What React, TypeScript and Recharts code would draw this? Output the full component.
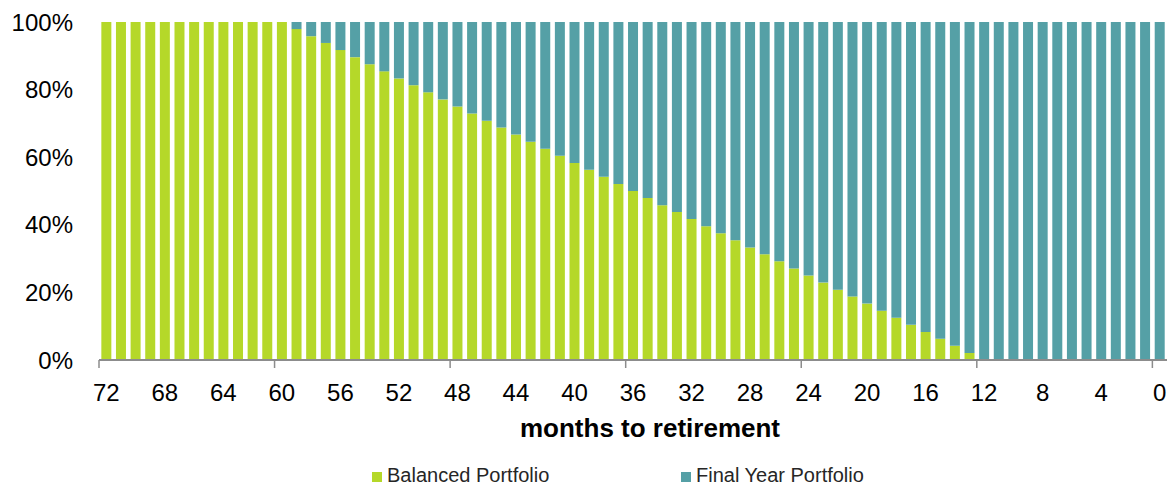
import React from 'react';
import { BarChart, Bar, XAxis, YAxis } from 'recharts';

const months = [
  72, 71, 70, 69, 68, 67, 66, 65, 64, 63, 62, 61, 60, 59, 58, 57, 56, 55, 54, 53, 52, 51, 50, 49, 48,
  47, 46, 45, 44, 43, 42, 41, 40, 39, 38, 37, 36, 35, 34, 33, 32, 31, 30, 29, 28, 27, 26, 25, 24,
  23, 22, 21, 20, 19, 18, 17, 16, 15, 14, 13, 12, 11, 10, 9, 8, 7, 6, 5, 4, 3, 2, 1, 0,
];

const balanced = [
  100, 100, 100, 100, 100, 100, 100, 100, 100, 100, 100, 100, 100,
  97.9, 95.8, 93.8, 91.7, 89.6, 87.5, 85.4, 83.3, 81.3, 79.2, 77.1, 75.0,
  72.9, 70.8, 68.8, 66.7, 64.6, 62.5, 60.4, 58.3, 56.3, 54.2, 52.1, 50.0,
  47.9, 45.8, 43.8, 41.7, 39.6, 37.5, 35.4, 33.3, 31.3, 29.2, 27.1, 25.0,
  22.9, 20.8, 18.8, 16.7, 14.6, 12.5, 10.4, 8.3, 6.3, 4.2, 2.1,
  0, 0, 0, 0, 0, 0, 0, 0, 0, 0, 0, 0, 0,
];

const finalYear = [
  0, 0, 0, 0, 0, 0, 0, 0, 0, 0, 0, 0, 0,
  2.1, 4.2, 6.2, 8.3, 10.4, 12.5, 14.6, 16.7, 18.7, 20.8, 22.9, 25.0,
  27.1, 29.2, 31.2, 33.3, 35.4, 37.5, 39.6, 41.7, 43.7, 45.8, 47.9, 50.0,
  52.1, 54.2, 56.2, 58.3, 60.4, 62.5, 64.6, 66.7, 68.7, 70.8, 72.9, 75.0,
  77.1, 79.2, 81.2, 83.3, 85.4, 87.5, 89.6, 91.7, 93.7, 95.8, 97.9,
  100, 100, 100, 100, 100, 100, 100, 100, 100, 100, 100, 100, 100,
];

const yTicks = [0, 20, 40, 60, 80, 100];

const GREEN = '#b5d829';
const TEAL = '#55a0a6';
const FONT = '"Liberation Sans", Arial, sans-serif';

const data = months.map((m, i) => ({
  month: m,
  balanced: balanced[i],
  finalYear: finalYear[i],
}));

// label every 4th month, small tick mark on the band edge every 12 months
const MonthTick = (props: any) => {
  const { x, y, payload } = props;
  const half = payload && payload.offset ? payload.offset : 7.32;
  return (
    <g>
      {payload.value % 12 === 0 && (
        <line x1={x - half} x2={x - half} y1={y} y2={y + 8} stroke="#8c8c8c" strokeWidth={1.5} />
      )}
      <text x={x} y={y + 41} textAnchor="middle" fontSize={24} fontFamily={FONT} fill="#000">
        {payload.value}
      </text>
    </g>
  );
};

const AxisTitle = (props: any) => {
  const vb = props.viewBox || { x: 99, width: 1068 };
  return (
    <text
      x={vb.x + vb.width / 2 + 17}
      y={437}
      textAnchor="middle"
      fontSize={26}
      fontWeight="bold"
      fontFamily={FONT}
      fill="#000"
    >
      months to retirement
    </text>
  );
};

const LegendItem = ({ color, label, left }: { color: string; label: string; left: number }) => (
  <div style={{ position: 'absolute', left, top: 463, display: 'flex', alignItems: 'center' }}>
    <div style={{ width: 10, height: 10, background: color, marginRight: 5, marginTop: 3 }} />
    <span style={{ fontSize: 20, fontFamily: FONT, color: '#262626', lineHeight: '24px' }}>{label}</span>
  </div>
);

const App: React.FC = () => {
  return (
    <div style={{ position: 'relative', width: 1173, height: 486, overflow: 'hidden', background: '#fff' }}>
      <style>{'html,body{margin:0;padding:0;overflow:hidden;}'}</style>
      <BarChart
        width={1173}
        height={486}
        data={data}
        margin={{ top: 22, right: 6, left: 0, bottom: 0 }}
        barCategoryGap="16%"
      >
        <XAxis
          dataKey="month"
          interval={3}
          height={126}
          axisLine={{ stroke: '#8c8c8c', strokeWidth: 2 }}
          tickLine={false}
          tickSize={0}
          tickMargin={0}
          tick={<MonthTick />}
          label={<AxisTitle />}
        />
        <YAxis
          width={99}
          domain={[0, 100]}
          ticks={yTicks}
          tickFormatter={(v: number) => `${v}%`}
          axisLine={false}
          tickLine={false}
          tickSize={0}
          tickMargin={26}
          tick={{ fontSize: 24, fontFamily: FONT, fill: '#000' }}
        />
        <Bar dataKey="balanced" stackId="a" fill={GREEN} isAnimationActive={false} />
        <Bar dataKey="finalYear" stackId="a" fill={TEAL} isAnimationActive={false} />
      </BarChart>
      <LegendItem color={GREEN} label="Balanced Portfolio" left={372} />
      <LegendItem color={TEAL} label="Final Year Portfolio" left={681} />
    </div>
  );
};

export default App;
